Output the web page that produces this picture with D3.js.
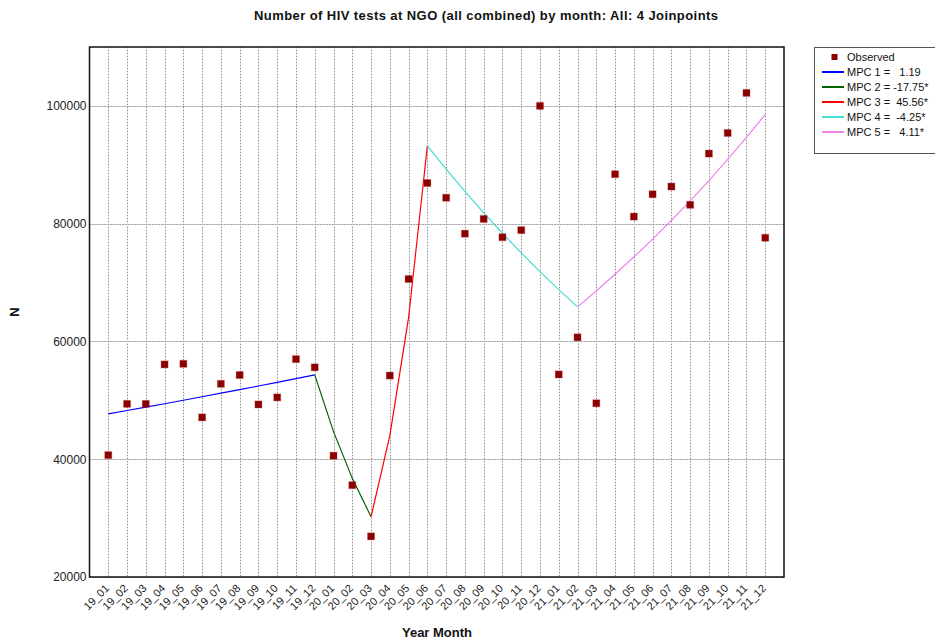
<!DOCTYPE html>
<html><head><meta charset="utf-8">
<script src="https://cdn.jsdelivr.net/npm/d3@7"></script>
<style>
html,body{margin:0;padding:0;background:#fff;}
svg{display:block;font-family:"Liberation Sans",Arial,sans-serif;}
</style></head>
<body><svg id="c" width="935" height="641"></svg>
<script>
const categories = ["19_01","19_02","19_03","19_04","19_05","19_06","19_07","19_08","19_09","19_10","19_11","19_12",
"20_01","20_02","20_03","20_04","20_05","20_06","20_07","20_08","20_09","20_10","20_11","20_12",
"21_01","21_02","21_03","21_04","21_05","21_06","21_07","21_08","21_09","21_10","21_11","21_12"];
const observed = [40700,49400,49400,56100,56200,47100,52800,54300,49300,50500,57000,55600,
40600,35600,26900,54200,70600,86900,84400,78300,80800,77700,78900,100000,
54400,60700,49500,88400,81200,85000,86300,83200,91900,95400,102200,77600];
const fitted = [47700,48270,48840,49420,50010,50610,51210,51820,52430,53060,53690,54330,
44690,36750,30230,44000,64050,93230,89270,85480,81840,78370,75040,71850,
68790,65870,68580,71400,74330,77380,80570,83880,87320,90910,94650,98540];
const segStart = [0,11,14,17,25];
const segEnd = [11,14,17,25,35];
const segLabels = ["MPC 1 =   1.19","MPC 2 = -17.75*","MPC 3 =  45.56*","MPC 4 =  -4.25*","MPC 5 =   4.11*"];
const segColors = ["#0000ff","#006400","#ff0000","#40e0d0","#ee82ee"];
const yTicks = [20000,40000,60000,80000,100000];
const title = "Number of HIV tests at NGO (all combined) by month: All: 4 Joinpoints";

const svg = d3.select("#c");
const L=89.5, R=784, T=47, B=577;
const x = d3.scalePoint().domain(categories).range([L,R]).padding(1);
const y = d3.scaleLinear().domain([20000,110000]).range([B,T]);

// grid
const g = svg.append("g");
categories.forEach(c=>{
  const xx = Math.round(x(c))+0.5;
  g.append("line").attr("x1",xx).attr("x2",xx).attr("y1",T).attr("y2",B).attr("stroke","#e2e2e2").attr("stroke-width",1);
  g.append("line").attr("x1",xx).attr("x2",xx).attr("y1",T).attr("y2",B).attr("stroke","#8a8a8a").attr("stroke-width",1).attr("stroke-dasharray","1,2");
});
yTicks.forEach(v=>{
  const yy = Math.round(y(v))+0.5;
  g.append("line").attr("x1",L).attr("x2",R).attr("y1",yy).attr("y2",yy).attr("stroke","#d8d8d8").attr("stroke-width",1);
  g.append("line").attr("x1",L).attr("x2",R).attr("y1",yy).attr("y2",yy).attr("stroke","#7a7a7a").attr("stroke-width",1).attr("stroke-dasharray","1,2");
});

// axes
const ya = svg.append("g").attr("transform",`translate(${L},0)`)
  .call(d3.axisLeft(y).tickValues(yTicks).tickSize(0).tickPadding(3).tickFormat(d3.format("d")));
ya.select(".domain").remove();
ya.selectAll("text").attr("font-size",12).attr("fill","#222").attr("font-family","Liberation Sans, Arial, sans-serif");

const xa = svg.append("g").attr("transform",`translate(0,${B})`)
  .call(d3.axisBottom(x).tickSize(0));
xa.select(".domain").remove();
xa.selectAll("text").attr("font-size",11).attr("fill","#222").attr("font-family","Liberation Sans, Arial, sans-serif")
  .attr("text-anchor","end").attr("dy",null).attr("y",null)
  .attr("transform","translate(1,12) rotate(-45)");

// fitted segments
const line = d3.line().x(i=>x(categories[i])).y(i=>y(fitted[i]));
segStart.forEach((s,k)=>{
  const idx = d3.range(s, segEnd[k]+1);
  svg.append("path").attr("d",line(idx)).attr("fill","none").attr("stroke",segColors[k]).attr("stroke-width",1.2);
});

// observed
svg.append("g").selectAll("rect").data(observed).join("rect")
  .attr("x",(d,i)=>x(categories[i])-3.5).attr("y",d=>y(d)-3.5).attr("width",7).attr("height",7)
  .attr("fill","#8b0000").attr("stroke","rgba(180,40,40,0.25)").attr("stroke-width",1.2);

// frame
svg.append("rect").attr("x",L).attr("y",T).attr("width",R-L).attr("height",B-T)
  .attr("fill","none").attr("stroke","#111").attr("stroke-width",1.5);

// titles
svg.append("text").attr("x",486).attr("y",20).attr("text-anchor","middle").attr("font-weight","bold").attr("font-size",13)
  .attr("textLength",464).attr("lengthAdjust","spacing").attr("fill","#111").text(title);
svg.append("text").attr("x",437).attr("y",637).attr("text-anchor","middle").attr("font-weight","bold").attr("font-size",13).attr("fill","#111").text("Year Month");
svg.append("text").attr("transform","translate(19,312) rotate(-90)").attr("text-anchor","middle").attr("font-weight","bold").attr("font-size",13).attr("fill","#111").text("N");

// legend
const lg = svg.append("g");
lg.append("rect").attr("x",814.5).attr("y",47.5).attr("width",130).attr("height",106).attr("fill","#fff").attr("stroke","#555").attr("stroke-width",1);
lg.append("rect").attr("x",834.5-3).attr("y",57-3).attr("width",6).attr("height",6).attr("fill","#8b0000");
lg.append("text").attr("x",847).attr("y",61).attr("font-size",11).attr("fill","#111").text("Observed");
segLabels.forEach((t,k)=>{
  const yy = 72 + k*15;
  lg.append("line").attr("x1",822).attr("x2",844).attr("y1",yy).attr("y2",yy).attr("stroke",segColors[k]).attr("stroke-width",2);
  lg.append("text").attr("x",847).attr("y",yy+4).attr("font-size",11).attr("fill","#111").style("white-space","pre").text(t);
});
</script></body></html>
